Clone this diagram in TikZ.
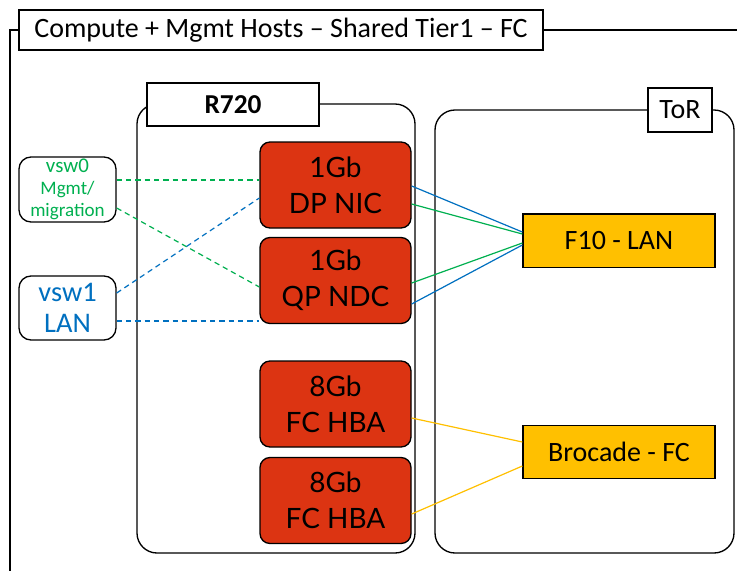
\documentclass[tikz,border=0pt]{standalone}
\usepackage{fontspec}
\setmainfont{Carlito}
\newfontfamily\cardfont{Lato}
\usetikzlibrary{positioning,calc}
\definecolor{cardRed}{RGB}{220,52,18}
\definecolor{torYellow}{RGB}{255,192,0}
\definecolor{mgmtGreen}{RGB}{0,176,80}
\definecolor{lanBlue}{RGB}{0,112,192}
\tikzset{
  frame/.style={draw, line width=1pt},
  hostbox/.style={draw, line width=1pt, rounded corners=15pt, fill=white},
  tagbox/.style={draw, line width=1pt, fill=white, align=center, inner sep=0pt, font=\fontsize{21}{24}\selectfont},
  card/.style={draw, line width=1pt, rounded corners=7.5pt, fill=cardRed, align=center, minimum width=113.25pt, minimum height=64.5pt, font=\cardfont\fontsize{21}{27}\selectfont},
  tor/.style={draw, line width=1pt, fill=torYellow, align=center, minimum width=144pt, minimum height=40pt, inner sep=0pt, font=\fontsize{21}{24}\selectfont},
  vsw/.style={draw, line width=1pt, rounded corners=9pt, fill=white, align=center, inner sep=0pt, minimum width=72.75pt},
  mgmt/.style={mgmtGreen, line width=0.9pt, dash pattern=on 4pt off 3pt},
  lan/.style={lanBlue, line width=0.9pt, dash pattern=on 4pt off 3pt},
  mlink/.style={mgmtGreen, line width=0.9pt},
  llink/.style={lanBlue, line width=0.9pt},
  fclink/.style={torYellow, line width=0.9pt}
}

\begin{document}
\begin{tikzpicture}[x=0.75pt,y=-0.75pt]
  \useasboundingbox (0,0) rectangle (737,571);

  % outer frame and title
  \node[tagbox, minimum width=393pt, minimum height=30pt] (title) at (281,30) {Compute + Mgmt Hosts -- Shared Tier1 -- FC};
  \draw[frame] (title.east) -- (737,30);
  \draw[frame] (title.west) -- (10,30) -- (10,571);

  % containers
  \node[hostbox, minimum width=208.5pt, minimum height=336.75pt] (r720) at (276,328.5) {};
  \node[hostbox, minimum width=224.25pt, minimum height=332.25pt] (torbox) at (584.5,331.5) {};
  \node[tagbox, minimum width=129pt, minimum height=32.25pt, font=\bfseries\fontsize{20.5}{24}\selectfont] (r720tag) at (233,104.5) {R720};
  \node[tagbox, minimum width=48pt, minimum height=33pt] (tortag) at (680,110) {ToR};

  % host cards
  \node[card] (dpnic) at (335.5,185) {1Gb\\DP NIC};
  \node[card] (qpndc) at (335.5,280.5) {1Gb\\QP NDC};
  \node[card] (hbaa) at (335.5,404) {8Gb\\FC HBA};
  \node[card] (hbab) at (335.5,500.5) {8Gb\\FC HBA};

  % switches
  \node[tor] (f10) at (619,240.5) {F10 - LAN};
  \node[tor] (brocade) at (619,452) {Brocade - FC};

  % vswitches
  \node[vsw, minimum height=48.75pt, text=mgmtGreen, font=\fontsize{15.7}{16.5}\selectfont] (vsw0) at (67.5,189.5)
    {vsw0\\{\fontsize{14.3}{16.5}\selectfont Mgmt/}\\{\fontsize{14.3}{16.5}\selectfont migration}};
  \node[vsw, minimum height=48pt, text=lanBlue, font=\fontsize{21.3}{23.5}\selectfont] (vsw1) at (67.5,308) {vsw1\\LAN};

  % vswitch uplinks
  \draw[mgmt] ($(vsw0.east)+(0,-9.5)$) -- ($(dpnic.west)+(0,-5)$);
  \draw[mgmt] ($(vsw0.east)+(0,18.5)$) -- ($(qpndc.west)+(0,6.5)$);
  \draw[lan] ($(vsw1.east)+(0,-15)$) -- ($(dpnic.west)+(0,13)$);
  \draw[lan] ($(vsw1.east)+(0,13)$) -- ($(qpndc.west)+(0,40.5)$);

  % LAN uplinks
  \draw[llink] ($(dpnic.east)+(0,1)$) -- ($(f10.west)+(0,-8.5)$);
  \draw[mlink] ($(dpnic.east)+(0,19)$) -- ($(f10.west)+(0,-6.5)$);
  \draw[mlink] ($(qpndc.east)+(0,2.5)$) -- ($(f10.west)+(0,2.5)$);
  \draw[llink] ($(qpndc.east)+(0,23.5)$) -- ($(f10.west)+(0,4.5)$);

  % FC uplinks
  \draw[fclink] ($(hbaa.east)+(0,14)$) -- ($(brocade.west)+(0,-10)$);
  \draw[fclink] ($(hbab.east)+(0,13.5)$) -- ($(brocade.west)+(0,14)$);
\end{tikzpicture}
\end{document}
